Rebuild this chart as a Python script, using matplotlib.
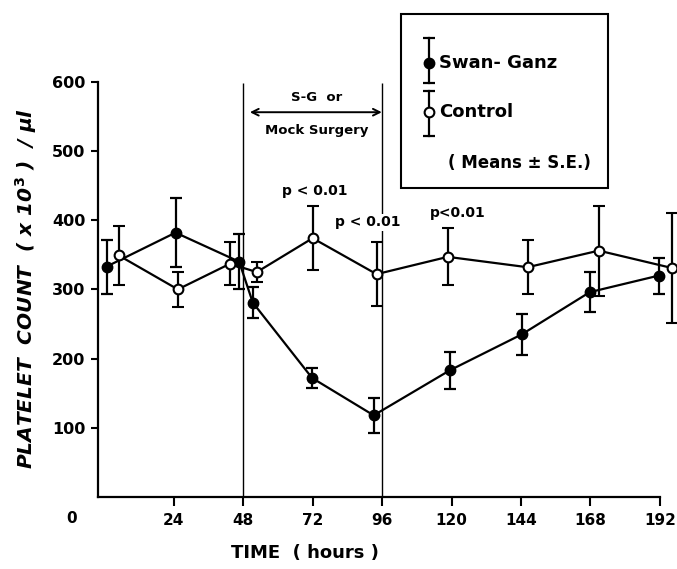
import matplotlib
matplotlib.use("Agg")
import matplotlib.pyplot as plt
from matplotlib.lines import Line2D
from matplotlib.patches import Rectangle


# =====================================
# DATA
# =====================================

sg_time = [0.8, 24.6, 46.6, 51.3, 71.8, 93.1, 119.4, 144.3, 167.8, 191.7]
sg_mean = [333, 382, 340, 281, 172, 118, 183, 235, 296, 320]
sg_se = [39, 50, 40, 22, 14, 25, 27, 30, 29, 26]

ctl_time = [5.0, 25.4, 43.4, 52.7, 72.0, 94.1, 118.7, 146.3, 170.9, 196.1]
ctl_mean = [349, 300, 337, 325, 374, 322, 347, 332, 356, 331]
ctl_se = [43, 25, 31, 15, 46, 46, 41, 39, 65, 79]

x_ticks = [24, 48, 72, 96, 120, 144, 168, 192]
y_ticks = [100, 200, 300, 400, 500, 600]

surgery_start = 48
surgery_end = 96


# =====================================
# FIGURE
# =====================================

W, H = 677, 569
plt.rcParams["font.family"] = "DejaVu Sans"
plt.rcParams["font.weight"] = "bold"

fig = plt.figure(figsize=(W / 100, H / 100), dpi=100)
ax = fig.add_axes([98 / W, 72 / H, 577.7 / W, 487.9 / H])

ax.set_xlim(-2.2, 197.5)
ax.set_ylim(0, 705)

for side in ["top", "right"]:
    ax.spines[side].set_visible(False)
ax.spines["left"].set_bounds(0, 600)
ax.spines["bottom"].set_bounds(-2.2, 192)
ax.spines["left"].set_linewidth(1.6)
ax.spines["bottom"].set_linewidth(1.6)

ax.set_xticks(x_ticks)
ax.set_yticks(y_ticks)
ax.tick_params(axis="x", direction="out", length=6.5, width=1.5,
               labelsize=11, pad=5)
ax.tick_params(axis="y", direction="out", length=5, width=1.5,
               labelsize=11.5, pad=4)

# origin label sits well left of the axis
ax.annotate("0", xy=(-11.3, 0), xycoords=("data", "axes fraction"),
            xytext=(0, -15.5), textcoords="offset points",
            ha="center", va="center", fontsize=11, fontweight="bold")

# surgery window
ax.vlines([surgery_start, surgery_end], 0, 598, color="black", lw=1.0)
ax.annotate("", xy=(50.3, 556), xytext=(95.9, 556),
            arrowprops=dict(arrowstyle="<->", lw=1.4, color="black",
                            shrinkA=0, shrinkB=0, mutation_scale=12))
ax.text(73.4, 577, "S-G  or", ha="center", va="center", fontsize=9.5)
ax.text(73.4, 529, "Mock Surgery", ha="center", va="center", fontsize=9.5)

# significance labels
ax.text(72.7, 442, "p < 0.01", ha="center", va="center", fontsize=10)
ax.text(91.0, 397, "p < 0.01", ha="center", va="center", fontsize=10,
        bbox=dict(fc="white", ec="none", pad=1))
ax.text(122.0, 411, "p<0.01", ha="center", va="center", fontsize=10)


# =====================================
# SERIES
# =====================================

ax.errorbar(sg_time, sg_mean, yerr=sg_se, color="black", lw=1.6,
            marker="o", ms=7.5, mfc="black", mec="black",
            elinewidth=1.6, capsize=4.5, capthick=1.6,
            clip_on=False, zorder=3)

ax.errorbar(ctl_time, ctl_mean, yerr=ctl_se, color="black", lw=1.6,
            marker="o", ms=7, mfc="white", mec="black", mew=1.5,
            elinewidth=1.6, capsize=4.5, capthick=1.6,
            clip_on=False, zorder=4)

ax.set_xlabel("TIME  ( hours )", fontsize=13, fontweight="bold")
ax.xaxis.set_label_coords((305 - 98) / 577.7, -(544 - 497) / 487.9)
ax.set_ylabel("PLATELET  COUNT  ( x 10$^{\\mathbf{3}}$ )  / \u00b5l",
              fontsize=14.5, fontweight="bold", style="italic")
ax.yaxis.set_label_coords(-(98 - 39) / 577.7, (497 - 289) / 487.9)


# =====================================
# LEGEND (drawn by hand)
# =====================================

def fx(px):
    return px / W


def fy(py):
    return 1 - py / H


fig.add_artist(Rectangle((fx(401), fy(188)), 207 / W, 174 / H,
                         transform=fig.transFigure, fill=False,
                         lw=1.5, ec="black"))


def legend_symbol(px, py, top, bottom, face):
    fig.add_artist(Line2D([fx(px), fx(px)], [fy(top), fy(bottom)],
                          transform=fig.transFigure, color="black", lw=1.6))
    fig.add_artist(Line2D([fx(px), fx(px)], [fy(top), fy(bottom)],
                          transform=fig.transFigure, ls="none",
                          marker="_", ms=9, mew=1.6, color="black"))
    fig.add_artist(Line2D([fx(px)], [fy(py)], transform=fig.transFigure,
                          ls="none", marker="o", ms=7, mfc=face,
                          mec="black", mew=1.5))


legend_symbol(429, 63, 38, 83, "black")
legend_symbol(429, 112, 91, 136, "white")

fig.text(fx(439), fy(63), "Swan- Ganz", ha="left", va="center", fontsize=13)
fig.text(fx(439), fy(112), "Control", ha="left", va="center", fontsize=13)
fig.text(fx(448), fy(163), "( Means \u00b1 S.E.)", ha="left", va="center",
         fontsize=12)

fig.savefig("out.png", dpi=100)
